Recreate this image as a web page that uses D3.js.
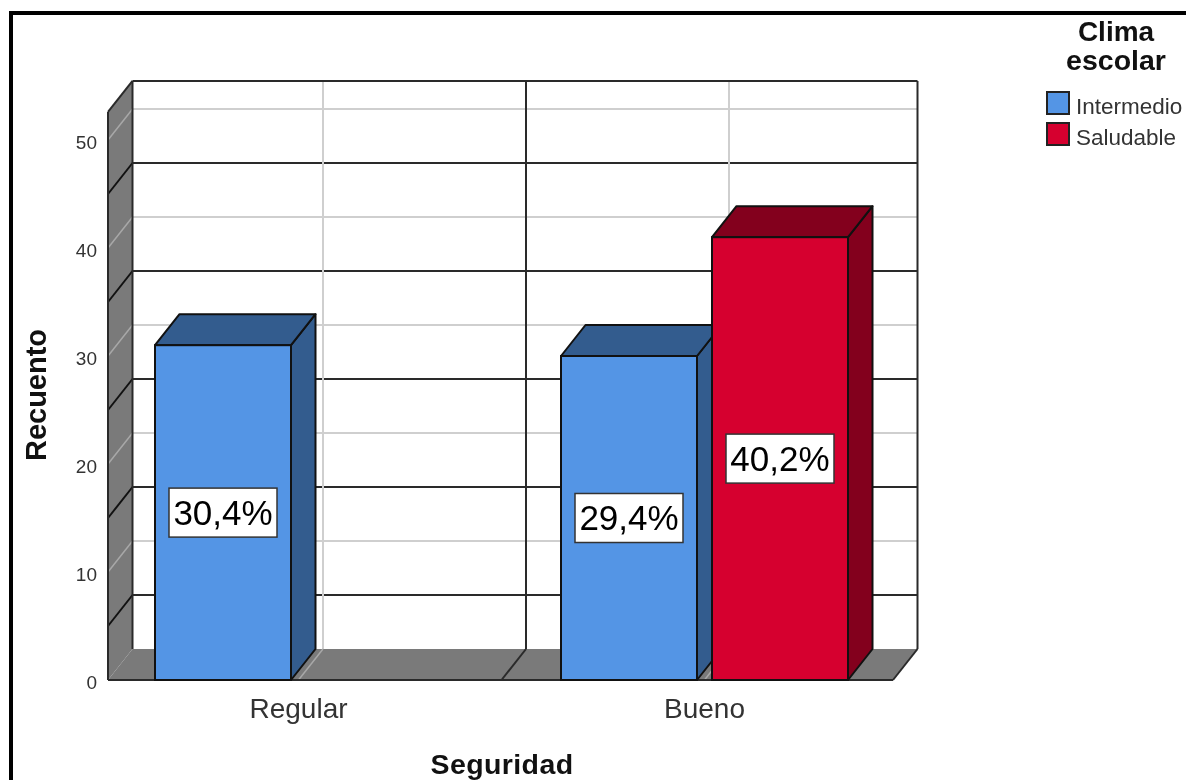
<!DOCTYPE html>
<html>
<head>
<meta charset="utf-8">
<script src="https://cdn.jsdelivr.net/npm/d3@7"></script>
<style>
  html, body { margin: 0; padding: 0; background: #fff; }
  svg { display: block; filter: blur(0.4px); }
  text { font-family: "Liberation Sans", Arial, sans-serif; }
</style>
</head>
<body>
<svg id="chart" width="1186" height="780"></svg>
<script>
const categories = ['Regular', 'Bueno']
const seriesNames = ['Intermedio', 'Saludable']
const intermedio = [31, 30]
const saludable = [0, 41]
const intermedioLabels = ['30,4%', '29,4%']
const saludableLabels = ['', '40,2%']
const yTicks = [0, 10, 20, 30, 40, 50]
const gridMajor = [10, 20, 30, 40, 50]
const gridMinor = [5, 15, 25, 35, 45]

const colors = {Intermedio: '#5495e5', Saludable: '#d6002f'}
const dark = {Intermedio: '#335c8e', Saludable: '#83001d'}
const wallColor = '#7a7a7a'
const lightLine = '#cfcfcf'
const wallLight = '#a8a8a8'
const darkLine = '#2a2a2a'

// depth of the fake 3d box
const depthX = 24.5
const depthY = -31

const svg = d3.select('#chart')

const yScale = d3.scaleLinear().domain([0, 10]).range([680, 572])
const xScale = d3.scaleBand().domain(categories).range([95.5, 907.5])
const serScale = d3.scaleBand().domain(seriesNames).range([-143.5, 143.5]).paddingInner(0.0993)

const floorLeft = 108
const floorRight = 893
const y0 = yScale(0)
const yTop = yScale(52.6)
const midX = xScale('Bueno')

const poly = (pts, fill, stroke) => svg.append('polygon')
    .attr('points', pts.map(p => p.join(',')).join(' '))
    .attr('fill', fill)
    .attr('stroke', stroke || 'none')
    .attr('stroke-width', 2)
    .attr('stroke-linejoin', 'round')

const line = (x1, y1, x2, y2, color, w) => svg.append('line')
    .attr('x1', x1).attr('y1', y1).attr('x2', x2).attr('y2', y2)
    .attr('stroke', color).attr('stroke-width', w || 2)

// outer frame
svg.append('rect').attr('x', 0).attr('y', 0).attr('width', 1186).attr('height', 780).attr('fill', '#fff')
line(11, 13, 1186, 13, '#000', 4)
line(11, 11, 11, 780, '#000', 4)

// back wall
poly([[floorLeft + depthX, yTop + depthY], [floorRight + depthX, yTop + depthY], [floorRight + depthX, y0 + depthY], [floorLeft + depthX, y0 + depthY]], '#fff')

// left wall + floor
poly([[floorLeft, yTop], [floorLeft + depthX, yTop + depthY], [floorLeft + depthX, y0 + depthY], [floorLeft, y0]], wallColor)
poly([[floorLeft, y0], [floorLeft + depthX, y0 + depthY], [floorRight + depthX, y0 + depthY], [floorRight, y0]], wallColor)

// gridlines on back wall, wrapping onto the left wall
gridMajor.forEach(v => {
    line(floorLeft + depthX, yScale(v) + depthY, floorRight + depthX, yScale(v) + depthY, lightLine)
    line(floorLeft, yScale(v), floorLeft + depthX, yScale(v) + depthY, wallLight, 1.5)
})
gridMinor.forEach(v => {
    line(floorLeft + depthX, yScale(v) + depthY, floorRight + depthX, yScale(v) + depthY, darkLine)
    line(floorLeft, yScale(v), floorLeft + depthX, yScale(v) + depthY, '#111')
})

// vertical gridlines, wrapping onto the floor
categories.forEach(c => {
    const cx = xScale(c) + xScale.bandwidth() / 2
    line(cx + depthX, yTop + depthY, cx + depthX, y0 + depthY, lightLine)
    line(cx, y0, cx + depthX, y0 + depthY, wallLight, 1.5)
})
line(midX + depthX, yTop + depthY, midX + depthX, y0 + depthY, darkLine)
line(midX, y0, midX + depthX, y0 + depthY, darkLine)

// box outline
line(floorLeft + depthX, yTop + depthY, floorRight + depthX, yTop + depthY, darkLine)
line(floorRight + depthX, yTop + depthY, floorRight + depthX, y0 + depthY, darkLine)
line(floorLeft + depthX, yTop + depthY, floorLeft + depthX, y0 + depthY, darkLine)
line(floorLeft, yTop, floorLeft + depthX, yTop + depthY, darkLine)
line(floorLeft, yTop, floorLeft, y0, darkLine)
line(floorLeft, y0, floorRight, y0, darkLine)
line(floorRight, y0, floorRight + depthX, y0 + depthY, darkLine)

// bars
const drawBar = (cat, name, value) => {
    if (!value) return
    const x = xScale(cat) + xScale.bandwidth() / 2 + serScale(name)
    const w = serScale.bandwidth()
    const top = yScale(value)
    poly([[x + w, top], [x + w + depthX, top + depthY], [x + w + depthX, y0 + depthY], [x + w, y0]], dark[name], '#111')
    poly([[x, top], [x + depthX, top + depthY], [x + w + depthX, top + depthY], [x + w, top]], dark[name], '#111')
    svg.append('rect').attr('x', x).attr('y', top).attr('width', w).attr('height', y0 - top)
        .attr('fill', colors[name]).attr('stroke', '#111').attr('stroke-width', 2)
}
categories.forEach((c, i) => drawBar(c, 'Intermedio', intermedio[i]))
categories.forEach((c, i) => drawBar(c, 'Saludable', saludable[i]))

// percent labels
const drawLabel = (cat, name, value, label) => {
    if (!label) return
    const cx = xScale(cat) + xScale.bandwidth() / 2 + serScale(name) + serScale.bandwidth() / 2
    const cy = yScale(value / 2)
    svg.append('rect').attr('x', cx - 54).attr('y', cy - 24.5).attr('width', 108).attr('height', 49)
        .attr('fill', '#fff').attr('stroke', '#333').attr('stroke-width', 1.5)
    svg.append('text').attr('x', cx).attr('y', cy + 12).attr('text-anchor', 'middle')
        .attr('font-size', 35).attr('fill', '#000').text(label)
}
categories.forEach((c, i) => drawLabel(c, 'Intermedio', intermedio[i], intermedioLabels[i]))
categories.forEach((c, i) => drawLabel(c, 'Saludable', saludable[i], saludableLabels[i]))

// y axis tick labels
yTicks.forEach(v => {
    svg.append('text').attr('x', 97).attr('y', yScale(v) + 9).attr('text-anchor', 'end')
        .attr('font-size', 19).attr('fill', '#333').text(v)
})

// x axis labels
categories.forEach(c => {
    svg.append('text').attr('x', xScale(c) + xScale.bandwidth() / 2).attr('y', 718).attr('text-anchor', 'middle')
        .attr('font-size', 28).attr('fill', '#333').text(c)
})

// axis titles
svg.append('text').attr('x', 502).attr('y', 774).attr('text-anchor', 'middle')
    .attr('font-size', 28.5).attr('letter-spacing', 0.4).attr('font-weight', 'bold').attr('fill', '#111').text('Seguridad')
svg.append('text').attr('transform', 'translate(46,395) rotate(-90)').attr('text-anchor', 'middle')
    .attr('font-size', 29).attr('font-weight', 'bold').attr('fill', '#111').text('Recuento')

// legend
svg.append('text').attr('x', 1116).attr('y', 41).attr('text-anchor', 'middle')
    .attr('font-size', 28).attr('font-weight', 'bold').attr('fill', '#111').text('Clima')
svg.append('text').attr('x', 1116).attr('y', 70).attr('text-anchor', 'middle')
    .attr('font-size', 28.5).attr('font-weight', 'bold').attr('fill', '#111').text('escolar')

seriesNames.forEach((s, i) => {
    const ly = 92 + i * 31
    svg.append('rect').attr('x', 1047).attr('y', ly).attr('width', 22).attr('height', 22)
        .attr('fill', colors[s]).attr('stroke', '#222').attr('stroke-width', 2)
    svg.append('text').attr('x', 1076).attr('y', ly + 22).attr('font-size', 22.5).attr('fill', '#333').text(s)
})
</script>
</body>
</html>
